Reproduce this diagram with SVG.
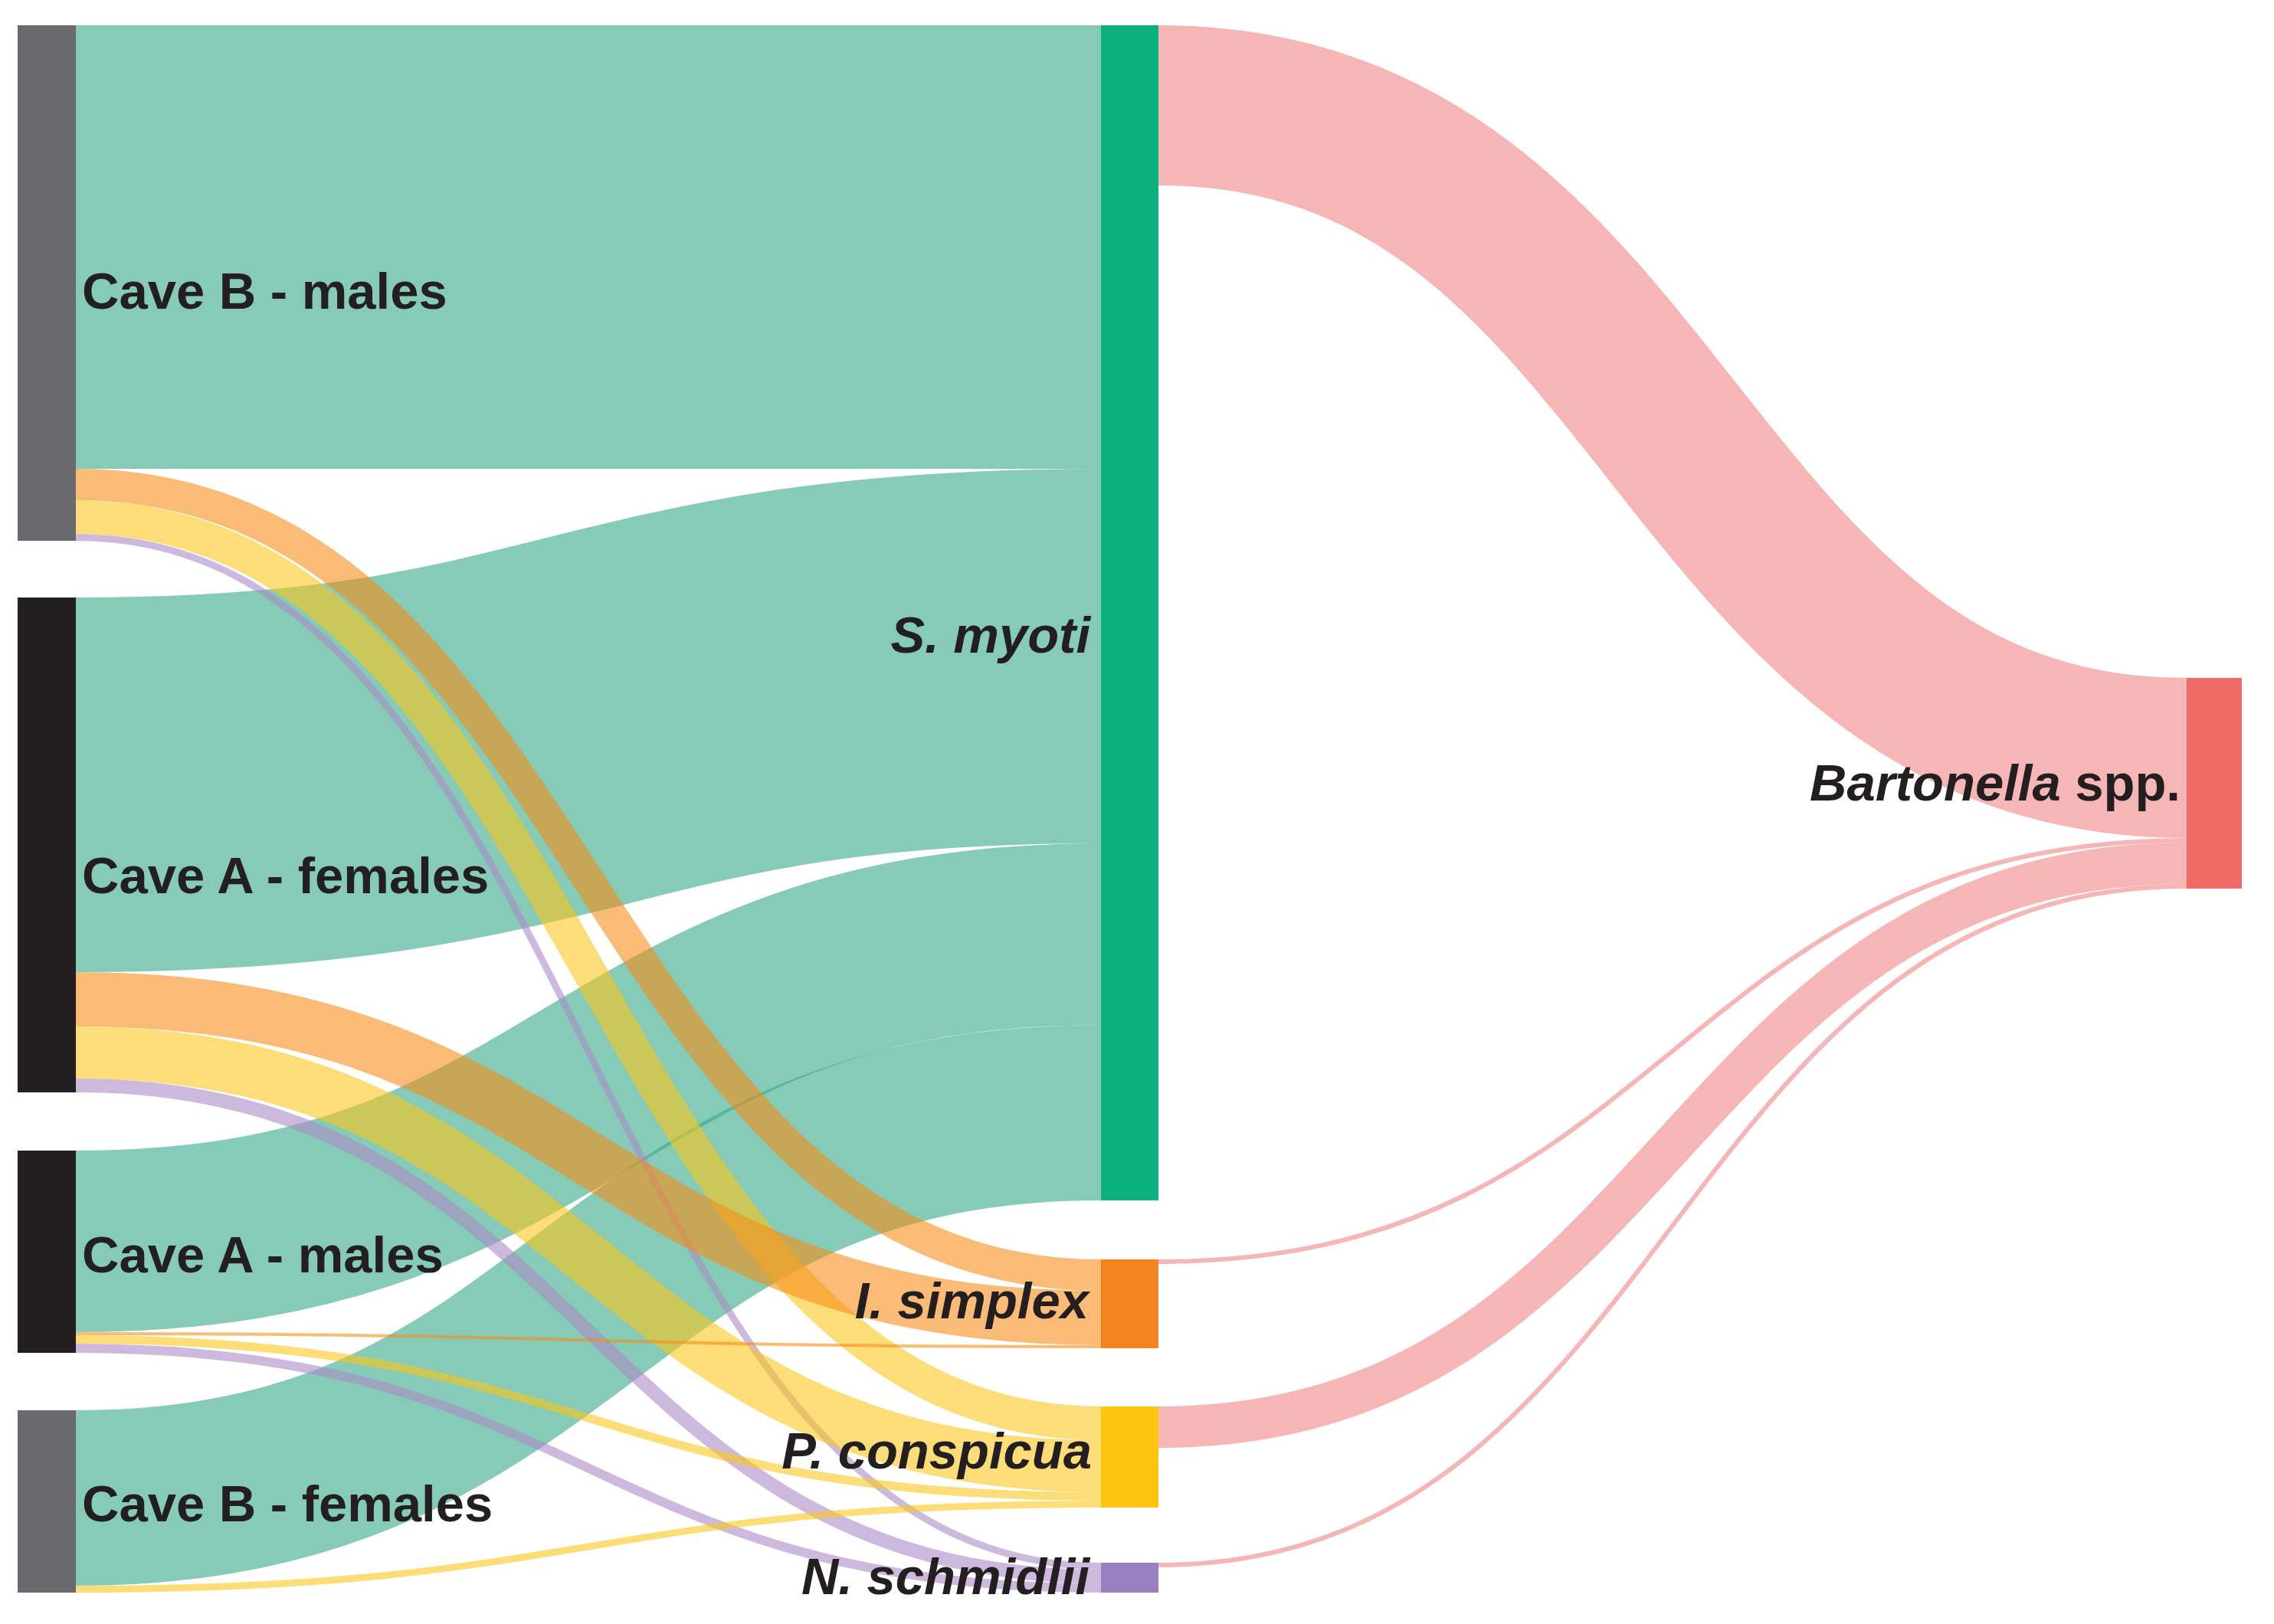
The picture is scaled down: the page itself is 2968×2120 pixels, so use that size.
<svg xmlns="http://www.w3.org/2000/svg" width="2968" height="2120" viewBox="0 0 2968 2120">
<style>
.lnk{fill:none;stroke-opacity:0.6}
.teal{stroke:#34a887}
.orng{stroke:#f58e19}
.yell{stroke:#fac61c}
.purp{stroke:#ac8ac6}
.pink{stroke:#f28585}
.lbl{font-family:"Liberation Sans",Arial,Helvetica,sans-serif;font-weight:bold;font-size:67px;fill:#231f20}
.it{font-style:italic}
.end{text-anchor:end}
</style>
<rect x="0" y="0" width="2968" height="2120" fill="#ffffff"/>
<g id="connectors">
<path class="lnk teal" stroke-width="579" d="M99,322.5 C768,322.5 768,322.5 1437,322.5"/>
<path class="lnk teal" stroke-width="489" d="M99,1024.5 C768,1024.5 768,856.5 1437,856.5"/>
<path class="lnk teal" stroke-width="237" d="M99,1620.5 C768,1620.5 768,1219.5 1437,1219.5"/>
<path class="lnk teal" stroke-width="229" d="M99,1955.5 C768,1955.5 768,1452.5 1437,1452.5"/>
<path class="lnk orng" stroke-width="41" d="M99,632.5 C768,632.5 768,1664.5 1437,1664.5"/>
<path class="lnk yell" stroke-width="44" d="M99,675 C768,675 768,1858 1437,1858"/>
<path class="lnk purp" stroke-width="9" d="M99,701.5 C768,701.5 768,2044.5 1437,2044.5"/>
<path class="lnk orng" stroke-width="71" d="M99,1304.5 C768,1304.5 768,1720.5 1437,1720.5"/>
<path class="lnk yell" stroke-width="68" d="M99,1374 C768,1374 768,1914 1437,1914"/>
<path class="lnk purp" stroke-width="18" d="M99,1417 C768,1417 768,2058 1437,2058"/>
<path class="lnk orng" stroke-width="4" d="M99,1741 C768,1741 768,1758 1437,1758"/>
<path class="lnk yell" stroke-width="11" d="M99,1748.5 C768,1748.5 768,1953.5 1437,1953.5"/>
<path class="lnk purp" stroke-width="12" d="M99,1760 C768,1760 768,2073 1437,2073"/>
<path class="lnk yell" stroke-width="9" d="M99,2074.5 C768,2074.5 768,1963.5 1437,1963.5"/>
<path class="lnk pink" stroke-width="209" d="M1512,137.5 C2183,137.5 2183,989.5 2854,989.5"/>
<path class="lnk pink" stroke-width="6" d="M1512,1647 C2183,1647 2183,1097 2854,1097"/>
<path class="lnk pink" stroke-width="54" d="M1512,1863 C2183,1863 2183,1127 2854,1127"/>
<path class="lnk pink" stroke-width="6" d="M1512,2043 C2183,2043 2183,1157 2854,1157"/>
</g>
<g id="cave-b-males">
<rect x="23" y="33" width="76" height="673" fill="#6a6a6e"/>
<text class="lbl" x="107" y="403">Cave B - males</text>
</g>
<g id="cave-a-females">
<rect x="23" y="780" width="76" height="646" fill="#231f20"/>
<text class="lbl" x="107" y="1166">Cave A - females</text>
</g>
<g id="cave-a-males">
<rect x="23" y="1502" width="76" height="264" fill="#231f20"/>
<text class="lbl" x="107" y="1661">Cave A - males</text>
</g>
<g id="cave-b-females">
<rect x="23" y="1841" width="76" height="238" fill="#6a6a6e"/>
<text class="lbl" x="107" y="1986">Cave B - females</text>
</g>
<g id="s-myoti">
<rect x="1437" y="33" width="75" height="1534" fill="#0bb27d"/>
<text class="lbl it end" x="1423" y="852">S. myoti</text>
</g>
<g id="i-simplex">
<rect x="1437" y="1644" width="75" height="116" fill="#f28420"/>
<text class="lbl it end" x="1421" y="1721">I. simplex</text>
</g>
<g id="p-conspicua">
<rect x="1437" y="1836" width="75" height="132" fill="#fdc60e"/>
<text class="lbl it end" x="1425" y="1917">P. conspicua</text>
</g>
<g id="n-schmidlii">
<rect x="1437" y="2040" width="75" height="39" fill="#9b80c1"/>
<text class="lbl it end" x="1422" y="2081">N. schmidlii</text>
</g>
<g id="bartonella">
<rect x="2854" y="885" width="72" height="275" fill="#ee6b66"/>
<text class="lbl end" x="2846" y="1045"><tspan class="it">Bartonella</tspan> spp.</text>
</g>
</svg>
